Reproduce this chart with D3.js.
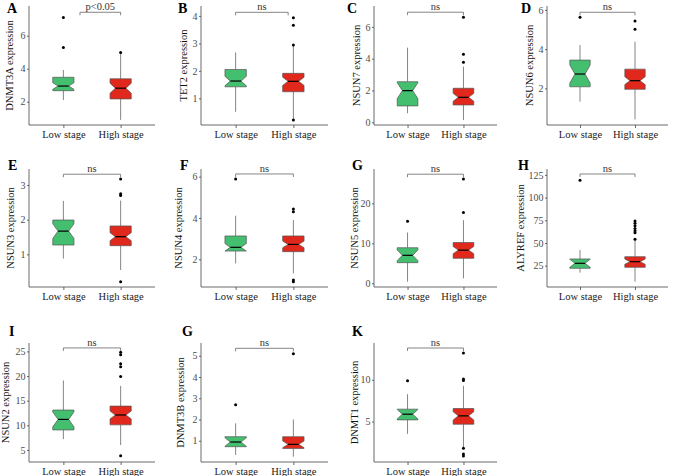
<!DOCTYPE html>
<html>
<head>
<meta charset="utf-8">
<script src="https://cdn.jsdelivr.net/npm/d3@7"></script>
<style>
  html, body { margin: 0; padding: 0; background: #fff; }
  svg { display: block; }
  text { font-family: "Liberation Serif", "Times New Roman", serif; }
</style>
</head>
<body>
<svg id="chart" width="676" height="476"></svg>
<script>
// ---------- DATA ----------
const panelLetters = ["A","B","C","D","E","F","G","H","I","G","K"];
const genes = ["DNMT3A","TET2","NSUN7","NSUN6","NSUN3","NSUN4","NSUN5","ALYREF","NSUN2","DNMT3B","DNMT1"];
const groups = ["Low stage","High stage"];
const sigLabels = ["p<0.05","ns","ns","ns","ns","ns","ns","ns","ns","ns","ns"];

// Low stage box stats
const lowQ1      = [2.67, 1.42, 1.03, 2.08, 1.27, 2.40, 5.16, 22.1, 9.07, 0.72, 5.20];
const lowMedian  = [2.95, 1.63, 1.99, 2.73, 1.67, 2.58, 7.00, 27.6, 11.2, 0.94, 5.88];
const lowQ3      = [3.48, 2.05, 2.55, 3.44, 1.99, 3.13, 8.90, 32.4, 13.1, 1.19, 6.48];
const lowWhiskLo = [2.10, 0.51, 0.57, 1.32, 0.88, 1.80, 0.40, 17.3, 7.2, 0.33, 3.52];
const lowWhiskHi = [3.92, 2.67, 4.69, 4.21, 2.54, 4.11, 12.7, 42.3, 19.1, 1.82, 8.28];
const lowNotch   = [0.20, 0.17, 0.50, 0.46, 0.21, 0.18, 1.33, 4.4, 1.5, 0.20, 0.56];
const lowOutliers = [[7.1, 5.28], [], [], [5.62], [], [5.89], [15.5], [119], [], [2.7], [9.88]];

// High stage box stats
const highQ1      = [2.17, 1.24, 1.09, 1.95, 1.25, 2.37, 6.25, 23.2, 10.1, 0.64, 4.68];
const highMedian  = [2.82, 1.62, 1.57, 2.39, 1.51, 2.72, 8.30, 29.4, 12.1, 0.83, 5.68];
const highQ3      = [3.39, 1.91, 2.14, 2.98, 1.82, 3.13, 10.2, 34.9, 13.9, 1.19, 6.56];
const highWhiskLo = [0.90, 0.21, 0.14, 0.42, 0.55, 1.32, 1.25, 7.4, 6.0, 0.25, 1.92];
const highWhiskHi = [4.98, 2.94, 3.50, 4.38, 2.55, 3.90, 15.8, 54.0, 18.0, 2.00, 9.28];
const highNotch   = [0.30, 0.15, 0.25, 0.20, 0.115, 0.16, 0.92, 2.9, 0.8, 0.16, 0.50];
const highOutliers = [
  [4.98],
  [3.93, 3.66, 2.94, 0.21],
  [6.6, 4.28, 3.77],
  [5.43, 5.01],
  [3.17, 2.75, 2.70, 0.21],
  [4.43, 4.30, 1.00, 0.92],
  [26.1, 17.7],
  [74.2, 71.7, 69.0, 66.0, 63.5, 61.3, 54.0],
  [24.8, 24.3, 22.5, 21.9, 19.9, 3.85],
  [5.1],
  [13.2, 10.1, 9.9, 1.8, 1.12, 0.88]
];

// Y axis limits and ticks
const yMin = [0.59, 0.03, -0.17, 0.13, 0.06, 0.66, -0.93, 1.5, 2.56, 0.0, 0.16];
const yMax = [7.80, 4.36, 7.31, 6.20, 3.46, 6.37, 28.6, 131.5, 26.7, 5.6, 14.4];
const yTicks = [[2,4,6],[1,2,3,4],[0,2,4,6],[2,4,6],[1,2,3],[2,4,6],[0,10,20],[25,50,75,100,125],[5,10,15,20,25],[1,2,3,4,5],[5,10]];

// Significance brackets (height in data units, ends in group units)
const bracketY     = [7.42, 4.13, 6.92, 5.88, 3.31, 6.13, 27.3, 126, 25.7, 5.35, 13.8];
const bracketStart = [1.29, 1, 1, 1, 1, 1, 1, 1, 1, 1, 1];
const bracketEnd   = [2, 1.91, 2, 2, 2, 2, 2, 2, 2, 2, 2];

// ---------- LAYOUT ----------
const colAxisX = [29, 201, 374, 547];
const colAxisEnd = [155, 328, 497, 668];
const rowTop = [6, 169, 343];
const rowBottom = [125, 287, 462];
const letterX = [[7, 178, 347, 521], [8, 180, 352, 518], [9, 182, 352]];
const letterBase = [12.5, 170, 336];
const titleOffset = [18, 16, 16, 16, 17, 21, 18.5, 25, 22, 19, 18.5];

const fills = ["#43bf6f", "#e1281c"];
const svg = d3.select("#chart");

genes.forEach((gene, i) => {
  const r = Math.floor(i / 4), c = i % 4;
  const ax = colAxisX[c], ae = colAxisEnd[c];
  const top = rowTop[r], bot = rowBottom[r];
  const g = svg.append("g");

  const x = d3.scaleLinear().domain([0.4, 2.6]).range([ax, ae]);
  const y = d3.scaleLinear().domain([yMin[i], yMax[i]]).range([bot, top]);

  // y axis
  const yAxis = d3.axisLeft(y).tickValues(yTicks[i]).tickSize(2).tickPadding(1.5).tickFormat(d3.format("d"));
  const ya = g.append("g").attr("transform", `translate(${ax},0)`).call(yAxis);
  ya.select(".domain").attr("d", `M0,${top}V${bot}`).attr("stroke", "#444").attr("stroke-width", 0.8);
  ya.selectAll(".tick line").attr("stroke", "#444").attr("stroke-width", 0.8);
  ya.selectAll(".tick text").attr("font-family", "Liberation Serif").attr("font-size", 10).attr("fill", "#4d4d4d");

  // x axis
  const xAxis = d3.axisBottom(x).tickValues([1, 2]).tickSize(3).tickPadding(3).tickFormat((d) => groups[d - 1]);
  const xa = g.append("g").attr("transform", `translate(0,${bot})`).call(xAxis);
  xa.select(".domain").attr("d", `M${ax},0H${ae}`).attr("stroke", "#444").attr("stroke-width", 0.8);
  xa.selectAll(".tick line").attr("stroke", "#444").attr("stroke-width", 0.8);
  xa.selectAll(".tick text").attr("font-family", "Liberation Serif").attr("font-size", 10.5).attr("fill", "#1a1a1a");

  // y title
  g.append("text")
    .attr("transform", `translate(${ax - titleOffset[i]},${(top + bot) / 2}) rotate(-90)`)
    .attr("text-anchor", "middle")
    .attr("dominant-baseline", "middle")
    .attr("font-size", 10.5)
    .attr("fill", "#111")
    .text(gene + " expression");

  // panel letter
  g.append("text")
    .attr("x", letterX[r][c])
    .attr("y", letterBase[r])
    .attr("font-size", 14)
    .attr("font-weight", "bold")
    .attr("fill", "#000")
    .text(panelLetters[i]);

  // boxes
  const stats = [
    { q1: lowQ1[i], med: lowMedian[i], q3: lowQ3[i], lo: lowWhiskLo[i], hi: lowWhiskHi[i], notch: lowNotch[i], out: lowOutliers[i] },
    { q1: highQ1[i], med: highMedian[i], q3: highQ3[i], lo: highWhiskLo[i], hi: highWhiskHi[i], notch: highNotch[i], out: highOutliers[i] }
  ];
  const bw = x(1.185) - x(0.815);
  stats.forEach((s, k) => {
    const xc = x(k + 1);
    const x0 = xc - bw / 2, x1 = xc + bw / 2, n0 = xc - bw / 4, n1 = xc + bw / 4;
    // whiskers
    g.append("line").attr("x1", xc).attr("x2", xc).attr("y1", y(s.q3)).attr("y2", y(s.hi))
      .attr("stroke", "#666").attr("stroke-width", 0.8);
    g.append("line").attr("x1", xc).attr("x2", xc).attr("y1", y(s.q1)).attr("y2", y(s.lo))
      .attr("stroke", "#666").attr("stroke-width", 0.8);
    // notched box
    const p = d3.path();
    p.moveTo(x0, y(s.q3));
    p.lineTo(x1, y(s.q3));
    p.lineTo(x1, y(s.med + s.notch));
    p.lineTo(n1, y(s.med));
    p.lineTo(x1, y(s.med - s.notch));
    p.lineTo(x1, y(s.q1));
    p.lineTo(x0, y(s.q1));
    p.lineTo(x0, y(s.med - s.notch));
    p.lineTo(n0, y(s.med));
    p.lineTo(x0, y(s.med + s.notch));
    p.closePath();
    g.append("path").attr("d", p.toString()).attr("fill", fills[k])
      .attr("stroke", "#555").attr("stroke-width", 0.7);
    // median
    g.append("line").attr("x1", n0).attr("x2", n1).attr("y1", y(s.med)).attr("y2", y(s.med))
      .attr("stroke", "#000").attr("stroke-width", 1.2);
    // outliers
    g.selectAll(null).data(s.out).enter().append("circle")
      .attr("cx", xc).attr("cy", (d) => y(d)).attr("r", 1.5).attr("fill", "#000");
  });

  // significance bracket
  const by = y(bracketY[i]);
  const bx0 = x(bracketStart[i]), bx1 = x(bracketEnd[i]);
  g.append("path")
    .attr("d", `M${bx0},${by + 3}V${by}H${bx1}V${by + 3}`)
    .attr("fill", "none").attr("stroke", "#666").attr("stroke-width", 0.8);
  g.append("text")
    .attr("x", (bx0 + bx1) / 2)
    .attr("y", by - 2)
    .attr("text-anchor", "middle")
    .attr("font-size", 10.5)
    .attr("fill", "#333")
    .text(sigLabels[i]);
});
</script>
</body>
</html>
